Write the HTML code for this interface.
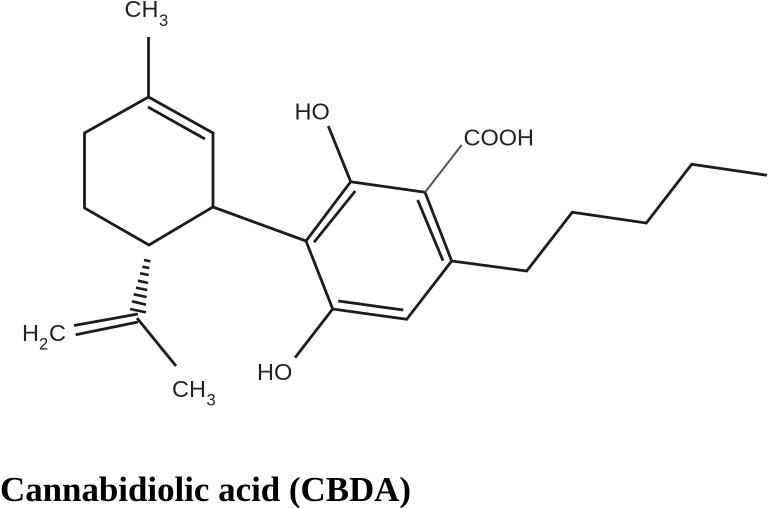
<!DOCTYPE html>
<html><head><meta charset="utf-8"><style>
html,body{margin:0;padding:0;background:#fff;width:768px;height:508px;overflow:hidden}
svg{display:block}
text{font-family:"Liberation Sans",sans-serif;font-size:23.5px;fill:#222}
.s{font-size:16.5px}
.t{font-family:"Liberation Serif",serif;font-weight:bold;font-size:34.9px;fill:#000}
</style></head><body>
<svg width="768" height="508" viewBox="0 0 768 508" xmlns="http://www.w3.org/2000/svg">
<g fill="none" stroke="#1c1c1c" stroke-width="2.8" stroke-linejoin="miter">
<path d="M148.5 37V97"/>
<path d="M84.5 133L148.5 97L213 133V207L149 245L84.5 208Z"/>
<path d="M148 107L205 139"/>
<path d="M213 207L306 241"/>
<path d="M350.7 181.7L425 192.3L451.7 261L406.7 319.3L332.7 309L306 241Z"/>
<path d="M355.3 191L314 242.3"/>
<path d="M417.7 200L443 260.7"/>
<path d="M338.3 301L403.3 310"/>
<path d="M328.3 126L350.7 181.7"/>
<path d="M295 357.7L332.7 309"/>
<path d="M451.7 261L526.7 271L572.3 212.3L646.3 223L691.7 164.3L767 175.3"/>
<path d="M74 325.5L138 314"/>
<path d="M75.7 334.7L138 322"/>
<path d="M137 318L176 366"/>
</g>
<path d="M425 192.3L461.7 145" fill="none" stroke="#555" stroke-width="2"/>
<g stroke="#1c1c1c" stroke-width="2.6">
<path d="M144 260L150.3 261.3"/>
<path d="M142.3 266.7L149.3 268"/>
<path d="M140 273.3L148.7 275"/>
<path d="M138 280.7L148 283"/>
<path d="M136 287.7L147.3 290"/>
<path d="M133.7 294.3L146.7 297"/>
<path d="M132 301.3L146 304.7"/>
<path d="M130 309L146 312.3"/>
</g>
<text x="124.5" y="17">CH</text><text class="s" x="159" y="26">3</text>
<text x="294.5" y="119.5">HO</text>
<text x="463.5" y="145.5">COOH</text>
<text x="257" y="380">HO</text>
<text x="22" y="341">H</text><text class="s" x="39" y="349.5">2</text><text x="49" y="341">C</text>
<text x="172" y="397">CH</text><text class="s" x="206.5" y="405.5">3</text>
<text class="t" x="0" y="501">Cannabidiolic acid (CBDA)</text>
</svg>
</body></html>
